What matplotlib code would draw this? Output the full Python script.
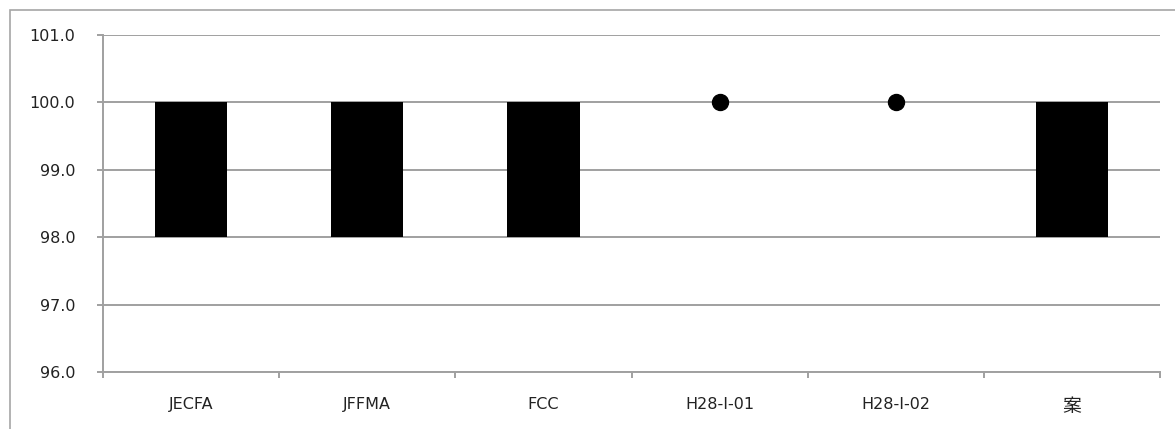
import matplotlib.pyplot as plt
import numpy as np
from matplotlib.patches import Rectangle

plt.rcParams['font.family'] = ['DejaVu Sans', 'Noto Sans CJK JP']

categories = ['JECFA', 'JFFMA', 'FCC', 'H28-I-01', 'H28-I-02', '案']
lower = [98.0, 98.0, 98.0, None, None, 98.0]
upper = [100.0, 100.0, 100.0, None, None, 100.0]
points = [None, None, None, 100.0, 100.0, None]

fig = plt.figure(figsize=(11.75, 4.29), dpi=100)
ax = fig.add_axes([103 / 1175, 1 - 372 / 429, (1160 - 103) / 1175, (372 - 35) / 429])

# outer frame, cut by the image edge on the right and bottom
fig.patches.append(Rectangle((10 / 1175, -0.1), 1.2, 1 - 10 / 429 + 0.1,
                             transform=fig.transFigure, fill=False,
                             edgecolor='#a6a6a6', linewidth=1.2))

x = np.arange(len(categories))
for xi, lo, hi in zip(x, lower, upper):
    if lo is not None:
        ax.bar(xi, hi - lo, bottom=lo, width=0.41, color='black', zorder=3)
for xi, p in zip(x, points):
    if p is not None:
        ax.plot(xi, p, 'o', color='black', markersize=11.5, zorder=4)

ax.set_xlim(-0.5, len(categories) - 0.5)
ax.set_ylim(96, 101)
ax.set_yticks(np.arange(96, 101.5, 1.0))
ax.set_yticklabels(['%.1f' % v for v in np.arange(96, 101.5, 1.0)])
ax.set_xticks(x)
ax.set_xticklabels(categories)
ax.set_xticks(np.arange(-0.5, len(categories)), minor=True)

ax.grid(axis='y', color='#a0a0a0', linewidth=1.4, zorder=0)
ax.set_axisbelow(True)
for s in ['top', 'right']:
    ax.spines[s].set_visible(False)
for s in ['left', 'bottom']:
    ax.spines[s].set_color('#a0a0a0')
    ax.spines[s].set_linewidth(1.4)

ax.tick_params(axis='y', length=4.5, width=1.4, color='#a0a0a0', labelsize=11.5,
               labelcolor='#222222', pad=15.5)
ax.tick_params(axis='x', which='major', length=0, labelsize=11.5,
               labelcolor='#222222', pad=18)
ax.tick_params(axis='x', which='minor', length=4.5, width=1.4, color='#a0a0a0')
# the kanji label is drawn larger in the original
ax.get_xticklabels()[-1].set_fontsize(13.5)

fig.savefig('out.png', dpi=100)
